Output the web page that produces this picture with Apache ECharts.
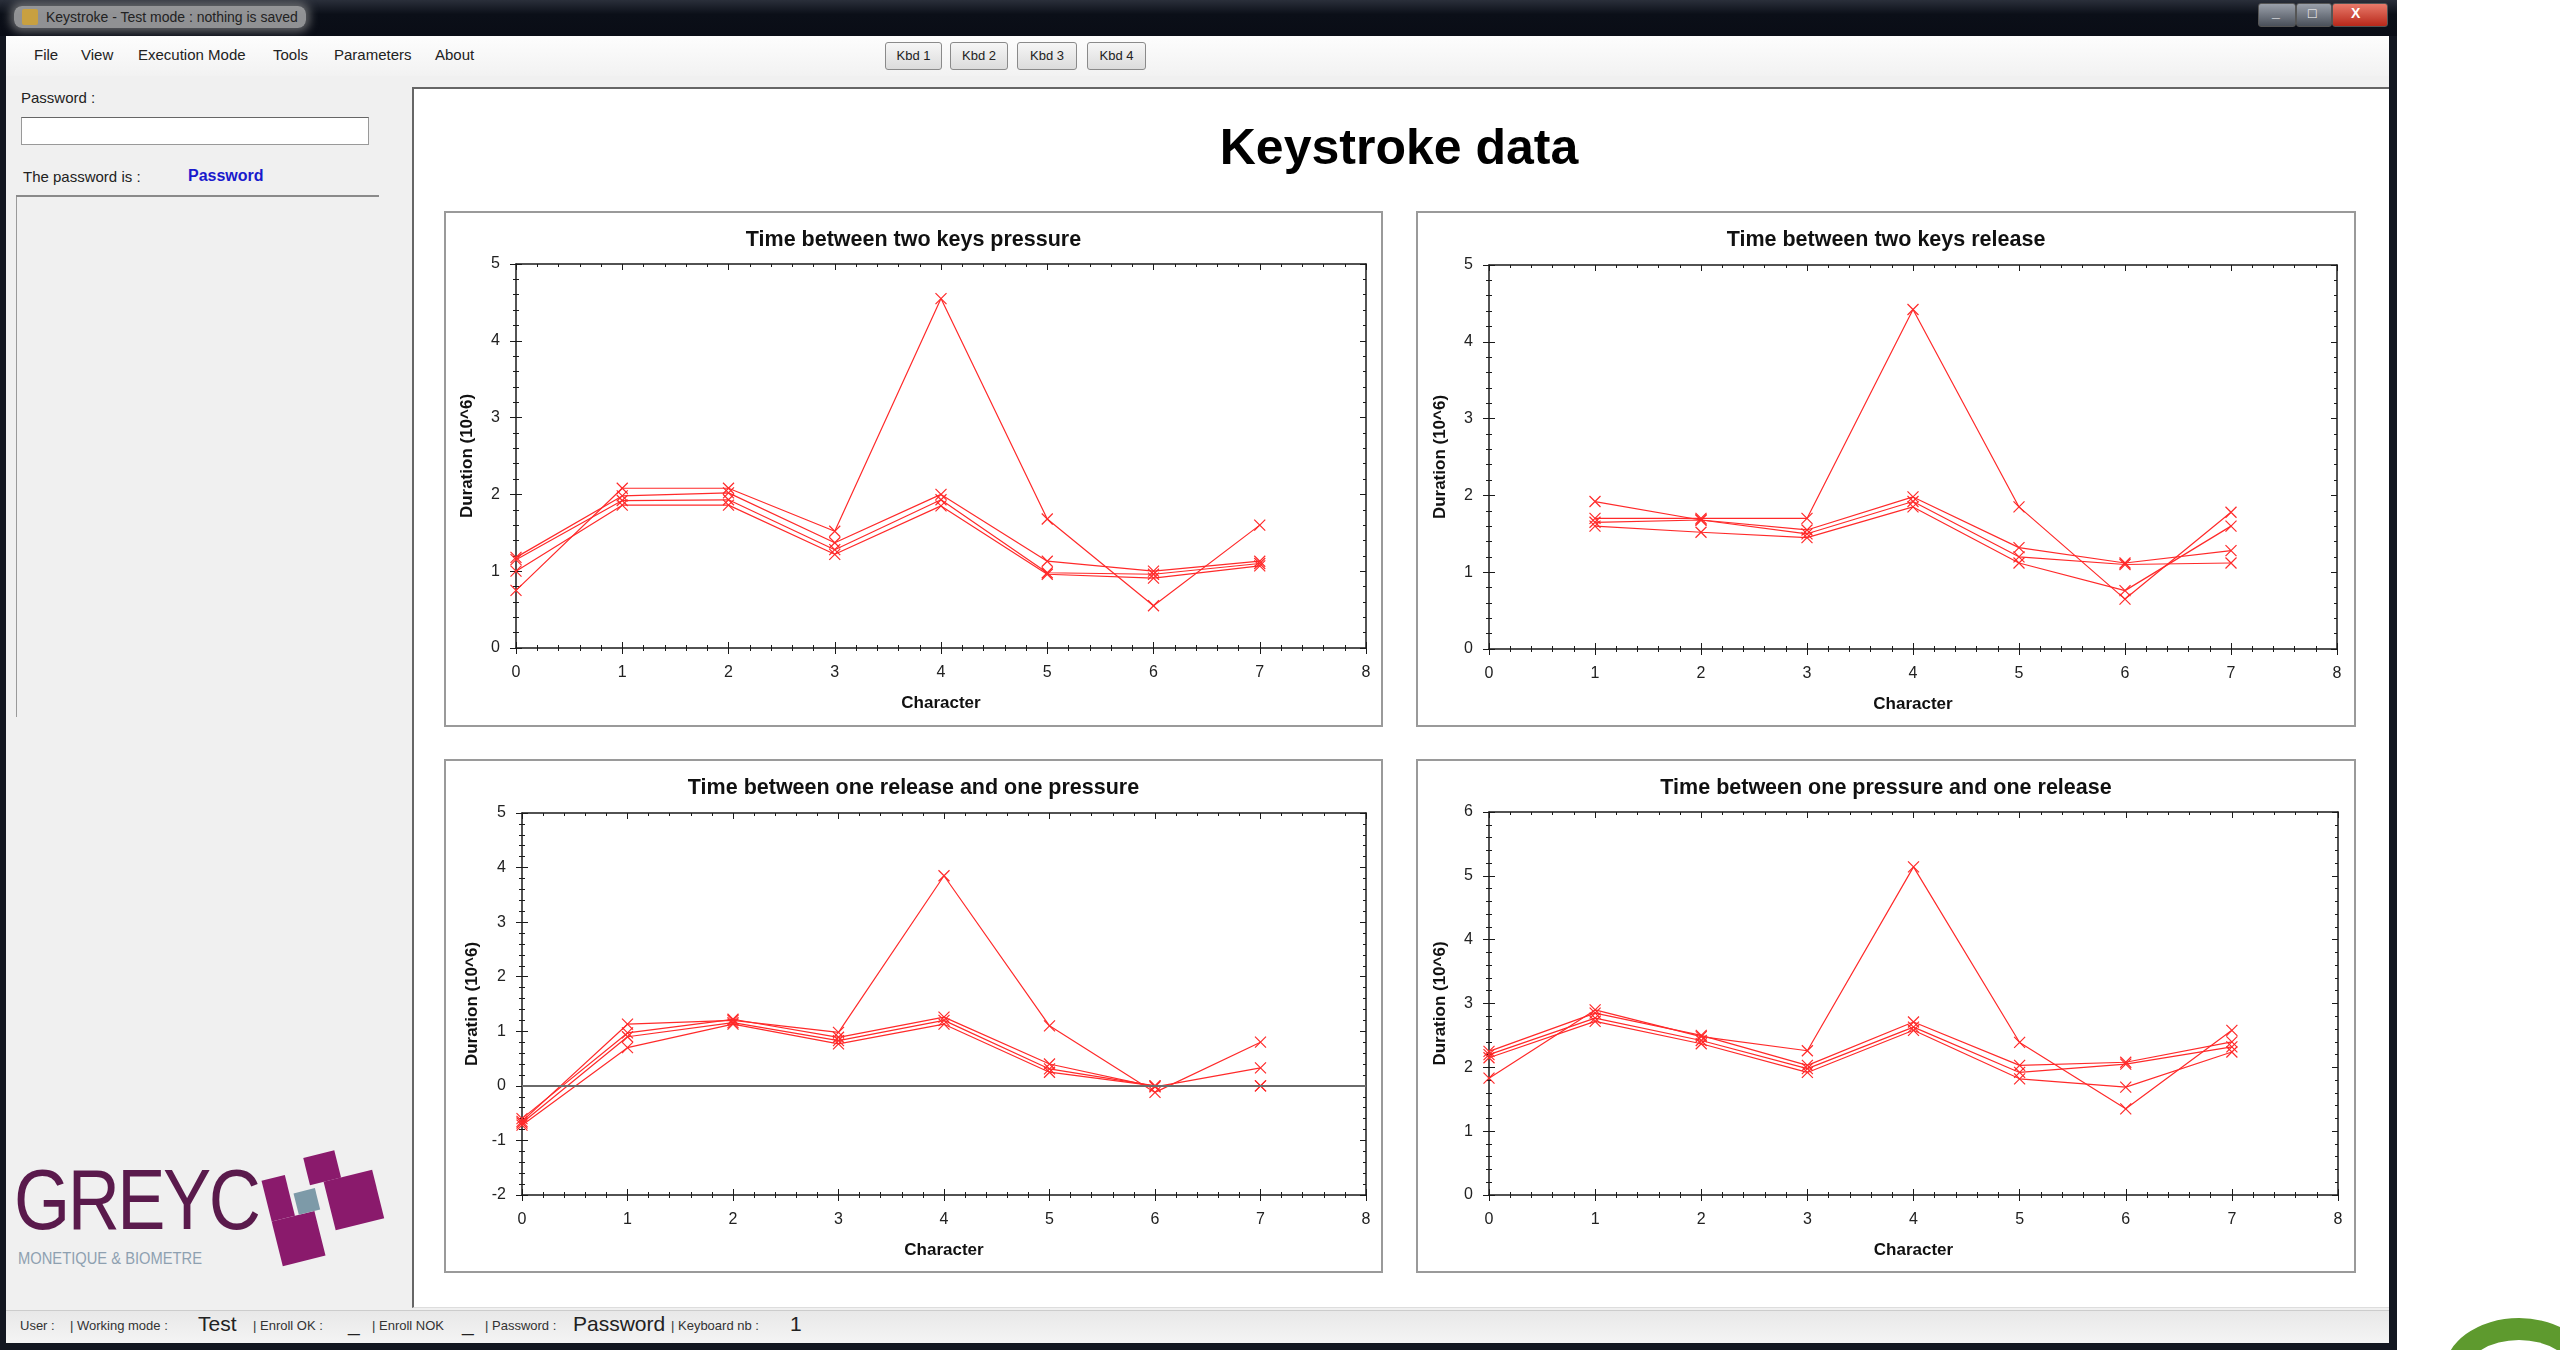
<!DOCTYPE html>
<html>
<head>
<meta charset="utf-8">
<script src="https://cdn.jsdelivr.net/npm/echarts@6/dist/echarts.min.js"></script>
<style>
  body { margin:0; width:2560px; height:1350px; background:#fff; overflow:hidden; position:relative;
         font-family:'Liberation Sans', Arial, sans-serif; }
  .abs { position:absolute; }
  #win { left:0; top:0; width:2397px; height:1350px; background:#121620; }
  #titlebar { left:0; top:0; width:2397px; height:36px; background:linear-gradient(#2a2f3a,#0b0f18 40%,#0a0d16); }
  #wintitle { left:14px; top:6px; height:22px; padding:0 8px 0 32px; line-height:22px; font-size:14px; color:#222;
              background:rgba(190,190,190,0.75); box-shadow:0 0 8px 4px rgba(150,150,150,0.6); border-radius:8px; }
  #wintitle .ico { position:absolute; left:8px; top:3px; width:16px; height:16px; background:#c8a040; border-radius:2px; }
  .wbtn { top:3px; height:22px; border:1px solid #555; border-radius:3px; background:linear-gradient(#9aa0aa,#4a505a); }
  #client { left:6px; top:36px; width:2383px; height:1306px; background:#f0f0f0; }
  #menubar { left:6px; top:36px; width:2383px; height:40px; background:linear-gradient(#fdfdfd,#f2f2f2); }
  .menu { top:46px; font-size:15px; color:#222; }
  .kbd { top:42px; height:26px; line-height:26px; font-size:13px; text-align:center; color:#222;
         border:1px solid #8a8a8a; border-radius:3px; background:linear-gradient(#f6f6f6,#dcdcdc); }
  #mainpanel { left:412px; top:87px; width:1975px; height:1218px; background:#fff;
               border-top:2px solid #666; border-left:2px solid #666; border-bottom:1px solid #ddd; }
  #bigtitle { left:414px; top:118px; width:1970px; text-align:center; font-size:50px; font-weight:bold; color:#000; }
  .box { background:#fff; border:2px solid #9a9a9a; box-sizing:border-box; }
  #status { left:6px; top:1310px; width:2383px; height:32px; background:linear-gradient(#e8e8e8,#f4f4f4); border-top:1px solid #ccc; }
  .st { top:1318px; font-size:13px; color:#333; }
  .stb { top:1312px; font-size:21px; color:#222; }
</style>
</head>
<body>
<div id="win" class="abs"></div>
<div id="titlebar" class="abs"></div>
<div id="wintitle" class="abs"><span class="ico"></span>Keystroke - Test mode : nothing is saved</div>
<div class="abs wbtn" style="left:2258px;width:36px;"></div>
<div class="abs wbtn" style="left:2296px;width:34px;"></div>
<div class="abs wbtn" style="left:2332px;width:54px;background:linear-gradient(#e87a6a,#b8281a);"></div>
<div class="abs" style="left:2262px;top:2px;width:120px;color:#fff;font-size:14px;font-weight:bold;">
  <span style="position:absolute;left:10px;top:2px;">_</span><span style="position:absolute;left:46px;top:3px;">□</span><span style="position:absolute;left:89px;top:3px;">X</span></div>

<div id="client" class="abs"></div>
<div id="menubar" class="abs"></div>
<div class="abs menu" style="left:34px;">File</div>
<div class="abs menu" style="left:81px;">View</div>
<div class="abs menu" style="left:138px;">Execution Mode</div>
<div class="abs menu" style="left:273px;">Tools</div>
<div class="abs menu" style="left:334px;">Parameters</div>
<div class="abs menu" style="left:435px;">About</div>
<div class="abs kbd" style="left:885px;width:55px;">Kbd 1</div>
<div class="abs kbd" style="left:950px;width:56px;">Kbd 2</div>
<div class="abs kbd" style="left:1017px;width:58px;">Kbd 3</div>
<div class="abs kbd" style="left:1087px;width:57px;">Kbd 4</div>

<!-- left panel -->
<div class="abs" style="left:21px;top:89px;font-size:15px;color:#222;">Password :</div>
<div class="abs" style="left:21px;top:117px;width:346px;height:26px;background:#fff;border:1px solid #999;border-top-color:#666;"></div>
<div class="abs" style="left:23px;top:168px;font-size:15px;color:#222;">The password is :</div>
<div class="abs" style="left:188px;top:167px;font-size:16px;font-weight:bold;color:#1a1acc;">Password</div>
<div class="abs" style="left:16px;top:195px;width:363px;height:2px;background:#8a8a8a;"></div>
<div class="abs" style="left:16px;top:197px;width:1px;height:520px;background:#9a9a9a;"></div>

<!-- GREYC logo -->
<div class="abs" style="left:14px;top:1150px;font-size:86px;color:#5a1a4c;letter-spacing:-3px;transform:scaleX(0.84);transform-origin:left top;font-weight:300;">GREYC</div>
<div class="abs" style="left:18px;top:1250px;font-size:16px;color:#8ea0b0;letter-spacing:0px;transform:scaleX(0.92);transform-origin:left top;">MONETIQUE &amp; BIOMETRE</div>
<div class="abs" style="left:264px;top:1152px;width:124px;height:112px;transform:rotate(-14deg);transform-origin:center;">
  <div class="abs" style="left:6px;top:14px;width:24px;height:42px;background:#8a1a6c;"></div>
  <div class="abs" style="left:6px;top:56px;width:44px;height:46px;background:#8a1a6c;"></div>
  <div class="abs" style="left:52px;top:2px;width:32px;height:28px;background:#8a1a6c;"></div>
  <div class="abs" style="left:66px;top:30px;width:50px;height:50px;background:#8a1a6c;"></div>
  <div class="abs" style="left:34px;top:34px;width:22px;height:22px;background:#7d9aa8;"></div>
</div>

<div id="mainpanel" class="abs"></div>
<div id="bigtitle" class="abs">Keystroke data</div>

<div id="c1" class="abs box" style="left:444px;top:211px;width:939px;height:516px;"></div>
<div id="c2" class="abs box" style="left:1416px;top:211px;width:940px;height:516px;"></div>
<div id="c3" class="abs box" style="left:444px;top:759px;width:939px;height:514px;"></div>
<div id="c4" class="abs box" style="left:1416px;top:759px;width:940px;height:514px;"></div>

<div id="status" class="abs"></div>
<div class="abs st" style="left:20px;">User :</div>
<div class="abs st" style="left:70px;">| Working mode :</div>
<div class="abs stb" style="left:198px;">Test</div>
<div class="abs st" style="left:253px;">| Enroll OK :</div>
<div class="abs stb" style="left:348px;">_</div>
<div class="abs st" style="left:372px;">| Enroll NOK</div>
<div class="abs stb" style="left:462px;">_</div>
<div class="abs st" style="left:485px;">| Password :</div>
<div class="abs stb" style="left:573px;">Password</div>
<div class="abs st" style="left:671px;">| Keyboard nb :</div>
<div class="abs stb" style="left:790px;">1</div>

<div class="abs" style="left:2444px;top:1318px;width:150px;height:110px;border-radius:50%;border:22px solid #5e9a2e;box-sizing:border-box;"></div>

<script>
// character index on x axis
const characters = [0, 1, 2, 3, 4, 5, 6, 7];

// Time between two keys pressure (4 captures)
const pressPress1 = [0.75, 2.08, 2.08, 1.52, 4.55, 1.68, 0.55, 1.60];
const pressPress2 = [1.18, 1.98, 2.02, 1.37, 2.00, 1.13, 1.00, 1.13];
const pressPress3 = [1.15, 1.92, 1.93, 1.28, 1.93, 0.98, 0.96, 1.10];
const pressPress4 = [1.00, 1.86, 1.86, 1.22, 1.85, 0.96, 0.91, 1.07];

// Time between two keys release
const relRel1 = [null, 1.70, 1.70, 1.70, 4.42, 1.85, 0.65, 1.78];
const relRel2 = [null, 1.92, 1.68, 1.55, 1.98, 1.32, 1.12, 1.28];
const relRel3 = [null, 1.65, 1.68, 1.50, 1.92, 1.20, 1.10, 1.12];
const relRel4 = [null, 1.60, 1.52, 1.45, 1.85, 1.12, 0.76, 1.60];

// Time between one release and one pressure
const relPress1 = [-0.65, 1.13, 1.20, 0.98, 3.85, 1.10, -0.12, 0.80];
const relPress2 = [-0.60, 0.97, 1.22, 0.89, 1.26, 0.40, -0.02, 0.33];
const relPress3 = [-0.68, 0.90, 1.16, 0.83, 1.20, 0.31, 0.00, 0.00];
const relPress4 = [-0.72, 0.70, 1.13, 0.77, 1.13, 0.25, 0.00, 0.00];

// Time between one pressure and one release
const pressRel1 = [1.83, 2.90, 2.48, 2.26, 5.14, 2.39, 1.35, 2.58];
const pressRel2 = [2.25, 2.85, 2.50, 2.03, 2.71, 2.03, 2.08, 2.40];
const pressRel3 = [2.20, 2.77, 2.42, 1.98, 2.63, 1.92, 2.05, 2.32];
const pressRel4 = [2.15, 2.72, 2.37, 1.92, 2.58, 1.82, 1.69, 2.24];

const chartFont = "'Liberation Sans Narrow', 'Liberation Sans', Arial, sans-serif";
const frameColor = '#1a1a1a';
const lineRed = '#ff2a2a';

const toPoints = (vals) => characters.map((c, i) => [c, vals[i]]).filter(p => p[1] !== null)

// one set of axes: labelled axis, outer ticks on same side, mirrored axis on the other side
const makeAxes = (kind, min, max, name, labelMargin, nameGap) => {
  const base = { type: 'value', min: min, max: max, interval: 1, splitLine: { show: false } }
  const tickStyle = { color: frameColor, width: 1 }
  const sideA = kind === 'x' ? 'bottom' : 'left'
  const sideB = kind === 'x' ? 'top' : 'right'
  return [
    Object.assign({}, base, {
      position: sideA,
      name: name, nameLocation: 'middle', nameGap: nameGap,
      nameTextStyle: { fontFamily: chartFont, fontSize: 17, fontWeight: 'bold', color: '#111' },
      axisLine: { show: true, onZero: false, lineStyle: { color: frameColor, width: 1.5 } },
      axisTick: { show: true, inside: true, length: 6, lineStyle: tickStyle },
      minorTick: { show: true, splitNumber: 5, length: 3, lineStyle: tickStyle },
      axisLabel: { margin: labelMargin, fontSize: 16, fontFamily: chartFont, color: '#222' }
    }),
    Object.assign({}, base, {
      position: sideA,
      axisLine: { show: false, onZero: false },
      axisTick: { show: true, inside: false, length: 6, lineStyle: tickStyle },
      minorTick: { show: true, splitNumber: 5, length: 3, lineStyle: tickStyle },
      axisLabel: { show: false }
    }),
    Object.assign({}, base, {
      position: sideB,
      axisLine: { show: true, onZero: false, lineStyle: { color: frameColor, width: 1.5 } },
      axisTick: { show: true, inside: true, length: 6, lineStyle: tickStyle },
      minorTick: { show: true, splitNumber: 5, length: 3, lineStyle: tickStyle },
      axisLabel: { show: false }
    })
  ]
}

const renderKeystrokeChart = (id, title, runs, yMin, yMax, grid, zeroLine) => {
  const chart = echarts.init(document.getElementById(id))
  const series = runs.map((vals, i) => {
    const s = {
      type: 'line',
      data: toPoints(vals),
      symbol: 'path://M0,0L10,10M10,0L0,10',
      symbolSize: 11,
      lineStyle: { color: lineRed, width: 1.2 },
      itemStyle: { color: 'rgba(0,0,0,0)', borderColor: lineRed, borderWidth: 1.2 },
      emphasis: { disabled: true },
      z: 3
    }
    if (zeroLine && i === 0) {
      s.markLine = {
        silent: true, symbol: 'none', label: { show: false },
        lineStyle: { color: '#6a6a6a', width: 2, type: 'solid' },
        data: [{ yAxis: 0 }]
      }
    }
    return s
  })
  chart.setOption({
    animation: false,
    title: {
      text: title, left: 'center', top: 11,
      textStyle: { fontFamily: chartFont, fontSize: 21.5, fontWeight: 'bold', color: '#111' }
    },
    grid: grid,
    xAxis: makeAxes('x', 0, 8, 'Character', 17, 47),
    yAxis: makeAxes('y', yMin, yMax, 'Duration (10^6)', 16, 40),
    series: series
  })
}

renderKeystrokeChart('c1', 'Time between two keys pressure',
  [pressPress1, pressPress2, pressPress3, pressPress4], 0, 5,
  { left: 70, top: 51, width: 850, height: 384 }, false)
renderKeystrokeChart('c2', 'Time between two keys release',
  [relRel1, relRel2, relRel3, relRel4], 0, 5,
  { left: 71, top: 52, width: 848, height: 384 }, false)
renderKeystrokeChart('c3', 'Time between one release and one pressure',
  [relPress1, relPress2, relPress3, relPress4], -2, 5,
  { left: 76, top: 52, width: 844, height: 382 }, true)
renderKeystrokeChart('c4', 'Time between one pressure and one release',
  [pressRel1, pressRel2, pressRel3, pressRel4], 0, 6,
  { left: 71, top: 51, width: 849, height: 383 }, false)
</script>
</body>
</html>
